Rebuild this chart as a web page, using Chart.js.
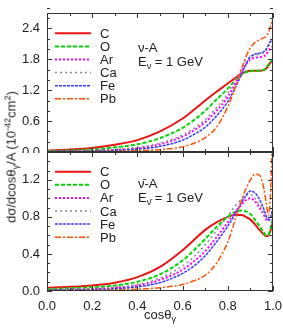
<!DOCTYPE html>
<html lang="en">
<head>
    <meta charset="UTF-8">
    <title>Photon angular distribution</title>
    <style>
        body { margin: 0; background: #fff; font-family: 'Liberation Sans', Arial, sans-serif; color: #222; }
        .wrap { position: relative; width: 283px; height: 330px; overflow: hidden; }
        canvas { position: absolute; left: 0; }
        #topChart { top: 0; }
        #botChart { top: 151px; }
        .txt { position: absolute; font-size: 13px; white-space: nowrap; line-height: 1; }
        .txt sub { font-size: 9px; vertical-align: -3px; }
        .txt sup { font-size: 9px; vertical-align: 5px; }
        #ytitle { left: 12px; top: 157px; transform: translate(-50%, -50%) rotate(-90deg); }
        #xtitle { left: 160px; top: 316px; transform: translate(-50%, -50%); }
    </style>
</head>
<body>
    <div class="wrap">
        <canvas id="topChart" width="283" height="153"></canvas>
        <canvas id="botChart" width="283" height="179"></canvas>
        <div class="txt" style="left:138px; top:41px;">ν-A</div>
        <div class="txt" style="left:138px; top:55px;">E<sub>ν</sub> = 1 GeV</div>
        <div class="txt" style="left:138px; top:177px;">ν̄-A</div>
        <div class="txt" style="left:138px; top:191px;">E<sub>ν̄</sub> = 1 GeV</div>
        <div class="txt" id="ytitle">dσ/dcosθ<sub>γ</sub>/A (10<sup>-42</sup>cm<sup>2</sup>)</div>
        <div class="txt" id="xtitle">cosθ<sub>γ</sub></div>
    </div>

    <script src="https://cdn.jsdelivr.net/npm/chart.js@4.4.0/dist/chart.umd.min.js"></script>
    <script>
        const nuclei = ['C', 'O', 'Ar', 'Ca', 'Fe', 'Pb'];
        const cosTheta = [0, 0.1, 0.2, 0.3, 0.4, 0.5, 0.6, 0.65, 0.7, 0.75, 0.8, 0.83, 0.86, 0.88, 0.9, 0.92, 0.94, 0.96, 0.97, 0.98, 0.99, 1.0];
        const xTickLabels = [0, 0.2, 0.4, 0.6, 0.8, 1.0];
        const yTopTicks = [0, 0.6, 1.2, 1.8, 2.4];
        const yBotTicks = [0, 0.4, 0.8, 1.2];

        // neutrino panel
        const nuC  = [0.03, 0.05, 0.08, 0.14, 0.23, 0.40, 0.65, 0.82, 1.00, 1.17, 1.33, 1.43, 1.52, 1.56, 1.58, 1.58, 1.58, 1.59, 1.62, 1.68, 1.74, 1.77];
        const nuO  = [0.02, 0.03, 0.05, 0.09, 0.15, 0.27, 0.47, 0.62, 0.80, 1.02, 1.23, 1.38, 1.50, 1.55, 1.57, 1.58, 1.58, 1.60, 1.64, 1.70, 1.76, 1.79];
        const nuAr = [0.01, 0.015, 0.025, 0.04, 0.07, 0.15, 0.30, 0.42, 0.58, 0.80, 1.07, 1.30, 1.55, 1.70, 1.80, 1.83, 1.84, 1.86, 1.90, 1.96, 2.02, 2.05];
        const nuCa = [0.01, 0.015, 0.025, 0.05, 0.09, 0.17, 0.33, 0.46, 0.63, 0.86, 1.14, 1.38, 1.62, 1.78, 1.85, 1.88, 1.90, 1.93, 1.98, 2.06, 2.13, 2.17];
        const nuFe = [0.005, 0.01, 0.015, 0.03, 0.055, 0.11, 0.23, 0.34, 0.48, 0.70, 0.98, 1.22, 1.50, 1.70, 1.85, 1.90, 1.92, 1.95, 2.00, 2.08, 2.16, 2.20];
        const nuPb = [0.005, 0.007, 0.01, 0.015, 0.025, 0.045, 0.10, 0.17, 0.28, 0.48, 0.88, 1.22, 1.60, 1.85, 2.02, 2.13, 2.18, 2.22, 2.25, 2.32, 2.45, 2.60];

        // antineutrino panel
        const nubarC  = [0.035, 0.045, 0.06, 0.09, 0.15, 0.26, 0.44, 0.55, 0.66, 0.74, 0.80, 0.82, 0.82, 0.80, 0.77, 0.72, 0.66, 0.61, 0.59, 0.60, 0.66, 0.75];
        const nubarO  = [0.02, 0.03, 0.04, 0.06, 0.10, 0.18, 0.33, 0.44, 0.56, 0.69, 0.80, 0.85, 0.87, 0.86, 0.83, 0.77, 0.70, 0.63, 0.60, 0.61, 0.68, 0.80];
        const nubarAr = [0.01, 0.015, 0.02, 0.035, 0.06, 0.12, 0.23, 0.32, 0.43, 0.58, 0.74, 0.84, 0.93, 0.98, 1.00, 0.97, 0.90, 0.82, 0.77, 0.76, 0.80, 0.88];
        const nubarCa = [0.01, 0.015, 0.025, 0.04, 0.07, 0.14, 0.27, 0.37, 0.50, 0.65, 0.81, 0.91, 0.99, 1.03, 1.04, 1.00, 0.93, 0.84, 0.79, 0.77, 0.80, 0.86];
        const nubarFe = [0.005, 0.01, 0.015, 0.025, 0.045, 0.09, 0.19, 0.27, 0.38, 0.53, 0.70, 0.82, 0.95, 1.03, 1.08, 1.06, 0.99, 0.88, 0.81, 0.77, 0.80, 0.90];
        const nubarPb = [0.003, 0.005, 0.008, 0.012, 0.02, 0.035, 0.07, 0.11, 0.17, 0.30, 0.53, 0.75, 0.98, 1.10, 1.20, 1.26, 1.25, 1.10, 0.95, 0.82, 1.10, 1.90];

        const styles = [
            { color: 'rgb(235,20,20)',  dash: [],           width: 2 },
            { color: 'rgb(0,215,0)',    dash: [4, 2],       width: 2 },
            { color: 'rgb(255,0,255)',  dash: [2, 2],       width: 2 },
            { color: 'rgb(140,140,140)',dash: [2, 3],       width: 1.5 },
            { color: 'rgb(60,60,255)',  dash: [3, 1],       width: 1.5 },
            { color: 'rgb(255,80,0)',   dash: [6, 2, 2, 2], width: 1.5 }
        ];

        function makeDatasets(series) {
            return series.map((vals, i) => ({
                label: nuclei[i],
                data: vals.map((v, k) => ({ x: cosTheta[k], y: v })),
                borderColor: styles[i].color,
                borderDash: styles[i].dash,
                borderWidth: styles[i].width,
                pointRadius: 0,
                fill: false,
                cubicInterpolationMode: 'monotone'
            })).reverse();
        }

        // frame with inward ticks on all four sides
        const framePlugin = {
            id: 'frame',
            afterDatasetsDraw(chart, args, opts) {
                const { ctx, chartArea: a, scales: { x, y } } = chart;
                ctx.save();
                ctx.strokeStyle = '#333';
                ctx.lineWidth = 1;
                ctx.setLineDash([]);
                ctx.strokeRect(a.left + 0.5, a.top + 0.5, a.right - a.left - 1, a.bottom - a.top - 1);
                ctx.beginPath();
                for (let i = 0; i <= 10; i++) {
                    const px = Math.round(x.getPixelForValue(i / 10)) + 0.5;
                    const len = i % 2 === 0 ? 5 : 3;
                    ctx.moveTo(px, a.top); ctx.lineTo(px, a.top + len);
                    ctx.moveTo(px, a.bottom); ctx.lineTo(px, a.bottom - len);
                }
                const n = Math.round(y.max / opts.minor);
                for (let i = 0; i <= n; i++) {
                    const v = i * opts.minor;
                    const py = Math.round(y.getPixelForValue(v)) + 0.5;
                    const major = opts.major.some(m => Math.abs(m - v) < 1e-6);
                    const len = major ? 5 : 3;
                    ctx.moveTo(a.left, py); ctx.lineTo(a.left + len, py);
                    ctx.moveTo(a.right, py); ctx.lineTo(a.right - len, py);
                }
                ctx.stroke();
                ctx.restore();
            }
        };

        // key drawn inside the top-left of each panel
        const keyPlugin = {
            id: 'key',
            afterDraw(chart, args, opts) {
                const ctx = chart.ctx;
                ctx.save();
                ctx.font = '13px "Liberation Sans", Arial, sans-serif';
                ctx.textBaseline = 'middle';
                ctx.fillStyle = '#222';
                nuclei.forEach((name, i) => {
                    const yy = opts.top + i * 13.1;
                    ctx.strokeStyle = styles[i].color;
                    ctx.lineWidth = styles[i].width;
                    ctx.setLineDash(styles[i].dash);
                    ctx.beginPath();
                    ctx.moveTo(55, yy); ctx.lineTo(91, yy);
                    ctx.stroke();
                    ctx.fillText(name, 100, yy + 1);
                });
                ctx.restore();
            }
        };

        function makeChart(id, series, yMax, yTicks, minor, showX, pad, keyTop) {
            return new Chart(document.getElementById(id), {
                type: 'line',
                data: { datasets: makeDatasets(series) },
                options: {
                    responsive: false,
                    animation: false,
                    layout: { padding: pad },
                    plugins: {
                        legend: { display: false },
                        tooltip: { enabled: false },
                        frame: { minor: minor, major: yTicks },
                        key: { top: keyTop }
                    },
                    scales: {
                        x: {
                            type: 'linear', min: 0, max: 1,
                            display: showX,
                            grid: { display: false, drawTicks: false },
                            border: { display: false },
                            afterBuildTicks: s => { s.ticks = xTickLabels.map(v => ({ value: v })); },
                            afterFit: s => {
                                s.height = showX ? 38 : 0;
                                s.paddingLeft = 0; s.paddingRight = 0;
                            },
                            ticks: {
                                padding: 8,
                                color: '#222',
                                font: { family: '"Liberation Sans", Arial, sans-serif', size: 13 },
                                maxRotation: 0,
                                callback: v => v.toFixed(1)
                            }
                        },
                        y: {
                            min: 0, max: yMax,
                            grid: { display: false, drawTicks: false },
                            border: { display: false },
                            afterBuildTicks: s => { s.ticks = yTicks.map(v => ({ value: v })); },
                            afterFit: s => {
                                s.width = 47;
                                s.paddingTop = 0; s.paddingBottom = 0;
                            },
                            ticks: {
                                padding: 7,
                                color: '#222',
                                font: { family: '"Liberation Sans", Arial, sans-serif', size: 13 },
                                callback: v => v.toFixed(1)
                            }
                        }
                    }
                },
                plugins: [framePlugin, keyPlugin]
            });
        }

        makeChart('topChart', [nuC, nuO, nuAr, nuCa, nuFe, nuPb], 2.7, yTopTicks, 0.2, false,
            { top: 13, right: 10, bottom: 1, left: 0 }, 33.3);
        makeChart('botChart', [nubarC, nubarO, nubarAr, nubarCa, nubarFe, nubarPb], 1.5, yBotTicks, 0.1, true,
            { top: 1, right: 10, bottom: 1, left: 0 }, 20.7);
    </script>
</body>
</html>
